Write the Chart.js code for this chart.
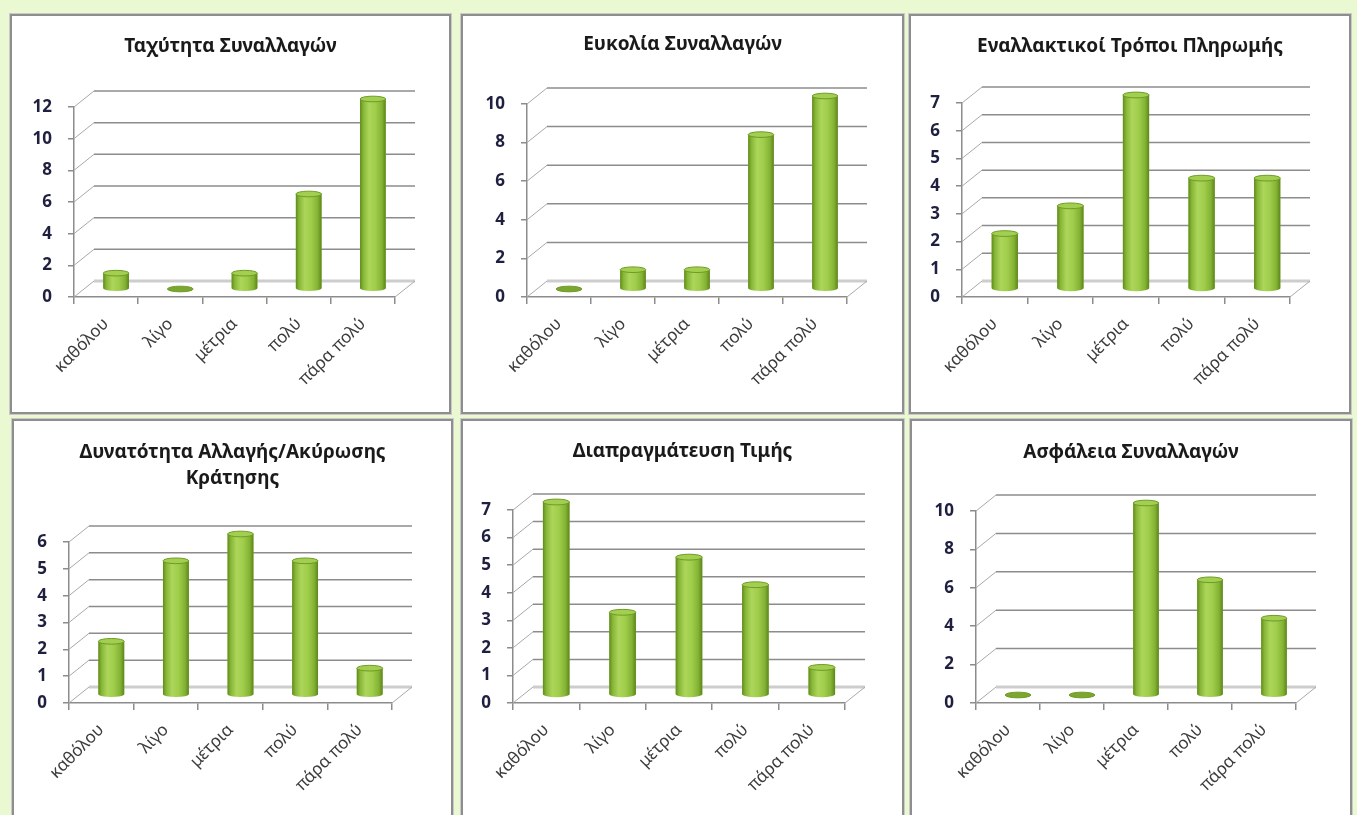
<!DOCTYPE html>
<html>
<head>
<meta charset="utf-8">
<script src="https://cdn.jsdelivr.net/npm/chart.js@4/dist/chart.umd.min.js"></script>
<style>
    html, body { margin: 0; padding: 0; width: 1357px; height: 815px; overflow: hidden; background: #ebf9d3; }
    .panel { position: absolute; box-sizing: border-box; border: 2px solid #8e8e8e; box-shadow: 0 0 0 1px #cacaca; background: #fff; }
    .panel canvas { display: block; }
</style>
</head>
<body>
<script>
const CATEGORIES = ['καθόλου', 'λίγο', 'μέτρια', 'πολύ', 'πάρα πολύ'];

const TITLES = [
    'Ταχύτητα Συναλλαγών',
    'Ευκολία Συναλλαγών',
    'Εναλλακτικοί Τρόποι Πληρωμής',
    ['Δυνατότητα Αλλαγής/Ακύρωσης', 'Κράτησης'],
    'Διαπραγμάτευση Τιμής',
    'Ασφάλεια Συναλλαγών'
];

// τιμές ανά γράφημα
const SPEED = [1, 0, 1, 6, 12];
const EASE = [0, 1, 1, 8, 10];
const PAYMENT = [2, 3, 7, 4, 4];
const CHANGE = [2, 5, 6, 5, 1];
const NEGOTIATION = [7, 3, 5, 4, 1];
const SECURITY = [0, 0, 10, 6, 4];
const SERIES = [SPEED, EASE, PAYMENT, CHANGE, NEGOTIATION, SECURITY];

// άξονας y
const Y_MAX = [12, 10, 7, 6, 7, 10];
const Y_STEP = [2, 2, 1, 1, 1, 2];

// θέσεις πλαισίων και περιοχών σχεδίασης (px)
const PANELS = [
    { box: [10, 14, 441, 400],  left: 62, top: 91,  right: 383, bottom: 281, titleY: 31 },
    { box: [461, 14, 443, 400], left: 64, top: 88,  right: 384, bottom: 281, titleY: 29 },
    { box: [909, 14, 442, 400], left: 51, top: 87,  right: 379, bottom: 281, titleY: 31 },
    { box: [12, 419, 441, 400], left: 55, top: 121, right: 378, bottom: 282, titleY: 32 },
    { box: [461, 419, 443, 400], left: 50, top: 89, right: 382, bottom: 282, titleY: 31 },
    { box: [910, 419, 442, 400], left: 64, top: 90, right: 384, bottom: 282, titleY: 32 }
];

const FONT = "'Noto Sans', 'DejaVu Sans', sans-serif";
const AXIS = '#8c8c8c';
const DX = 20, DY = -16;   // βάθος 3Δ
const LH = 26;

function drawCylinder(ctx, x, y, base, width) {
    const l = x - width / 2, r = x + width / 2, ry = width * 0.11;
    const g = ctx.createLinearGradient(l, 0, r, 0);
    g.addColorStop(0, '#5f8a1c');
    g.addColorStop(0.12, '#86b536');
    g.addColorStop(0.35, '#acd65a');
    g.addColorStop(0.6, '#a0cd4b');
    g.addColorStop(0.85, '#84b234');
    g.addColorStop(1, '#5c861b');
    ctx.fillStyle = g;
    ctx.beginPath();
    ctx.moveTo(l, y);
    ctx.lineTo(l, base);
    ctx.ellipse(x, base, width / 2, ry, 0, Math.PI, 0, true);
    ctx.lineTo(r, y);
    ctx.closePath();
    ctx.fill();

    ctx.beginPath();
    ctx.ellipse(x, y, width / 2, ry, 0, 0, Math.PI * 2);
    ctx.fillStyle = y === base ? '#7ba62f' : '#a3cf50';
    ctx.fill();
    ctx.strokeStyle = '#6f9a26';
    ctx.lineWidth = 1;
    ctx.stroke();
}

const depthPlugin = {
    id: 'depth',
    beforeDatasetsDraw(chart) {
        const { ctx, chartArea: a, scales: { y } } = chart;
        ctx.save();
        y.ticks.forEach(t => {
            const py = y.getPixelForValue(t.value);
            ctx.strokeStyle = '#a8a8a8';
            ctx.lineWidth = 1;
            ctx.beginPath();
            ctx.moveTo(a.left, py);
            ctx.lineTo(a.left + DX, py + DY);
            ctx.stroke();
            ctx.strokeStyle = t.value === 0 ? '#cdcdcd' : '#8c8c8c';
            ctx.lineWidth = t.value === 0 ? 3 : 1.5;
            ctx.beginPath();
            ctx.moveTo(a.left + DX, py + DY);
            ctx.lineTo(a.right + DX, py + DY);
            ctx.stroke();
        });
        ctx.strokeStyle = '#a8a8a8';
        ctx.lineWidth = 1;
        ctx.beginPath();
        ctx.moveTo(a.right, a.bottom);
        ctx.lineTo(a.right + DX, a.bottom + DY);
        ctx.stroke();
        ctx.restore();

        // οι κύλινδροι στη μέση του βάθους
        ctx.save();
        ctx.translate(DX / 2, DY / 2);
    },
    afterDatasetsDraw(chart) {
        const ctx = chart.ctx;
        chart.getDatasetMeta(0).data.forEach(el => {
            const { x, y, base, width } = el.getProps(['x', 'y', 'base', 'width'], true);
            drawCylinder(ctx, x, y, base, width);
        });
        ctx.restore();
    }
};

function makeChart(i) {
    const p = PANELS[i];
    const div = document.createElement('div');
    div.className = 'panel';
    div.style.left = p.box[0] + 'px';
    div.style.top = p.box[1] + 'px';
    div.style.width = p.box[2] + 'px';
    div.style.height = p.box[3] + 'px';
    const w = p.box[2] - 4, h = p.box[3] - 4;
    const canvas = document.createElement('canvas');
    canvas.width = w;
    canvas.height = h;
    canvas.style.width = w + 'px';
    canvas.style.height = h + 'px';
    div.appendChild(canvas);
    document.body.appendChild(div);

    const lines = Array.isArray(TITLES[i]) ? TITLES[i].length : 1;
    const padTop = p.titleY - LH / 2;

    new Chart(canvas, {
        type: 'bar',
        data: {
            labels: CATEGORIES,
            datasets: [{
                data: SERIES[i],
                backgroundColor: '#96c43f',
                borderWidth: 0,
                categoryPercentage: 1,
                barPercentage: 0.4,
                clip: false
            }]
        },
        options: {
            responsive: false,
            animation: false,
            layout: { padding: 0 },
            plugins: {
                legend: { display: false },
                tooltip: { enabled: false },
                title: {
                    display: true,
                    text: TITLES[i],
                    color: '#1a1a1a',
                    font: { family: FONT, size: 19, weight: 'bold', lineHeight: LH + 'px' },
                    padding: { top: padTop, bottom: p.top - padTop - lines * LH }
                }
            },
            scales: {
                x: {
                    grid: { offset: true, drawOnChartArea: false, tickLength: 7, color: AXIS, lineWidth: 1.5 },
                    border: { color: AXIS, width: 1.5 },
                    ticks: {
                        autoSkip: false, minRotation: 45, maxRotation: 45,
                        color: '#3c3c3c', font: { family: FONT, size: 17 }, padding: 10
                    },
                    afterFit(s) { s.height = h - p.bottom; }
                },
                y: {
                    min: 0,
                    max: Y_MAX[i],
                    ticks: {
                        stepSize: Y_STEP[i], color: '#1f2040',
                        font: { family: FONT, size: 17, weight: 'bold' }, padding: 16
                    },
                    grid: { drawOnChartArea: false, tickLength: 6, color: AXIS, lineWidth: 1.5 },
                    border: { color: AXIS, width: 1.5 },
                    afterFit(s) { s.width = p.left; }
                },
                // κενός χώρος δεξιά ώστε ο τίτλος να μένει στο κέντρο
                side: {
                    position: 'right',
                    grid: { display: false },
                    border: { display: false },
                    ticks: { display: false },
                    afterFit(s) { s.width = w - p.right; }
                }
            }
        },
        plugins: [depthPlugin]
    });
}

for (let i = 0; i < SERIES.length; i++) {
    makeChart(i);
}
</script>
</body>
</html>
